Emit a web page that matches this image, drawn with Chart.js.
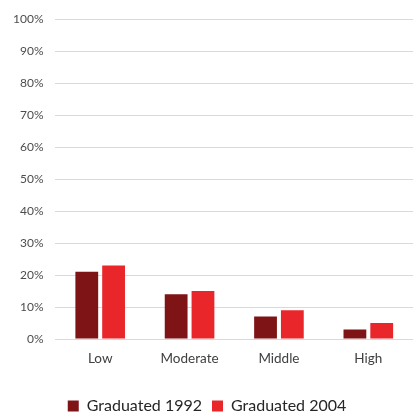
<!DOCTYPE html>
<html>
<head>
<meta charset="utf-8">
<script src="https://cdn.jsdelivr.net/npm/chart.js@4/dist/chart.umd.min.js"></script>
<style>
  html, body { margin: 0; padding: 0; background: #fff; }
  #wrap { width: 415px; height: 415px; }
</style>
</head>
<body>
<div id="wrap"><canvas id="barChart" width="415" height="415"></canvas></div>
<script>
var categories = ["Low", "Moderate", "Middle", "High"];
var grad1992 = [21, 14, 7, 3];
var grad2004 = [23, 15, 9, 5];
var yTicks = [0, 10, 20, 30, 40, 50, 60, 70, 80, 90, 100];

var barData = {
    labels: categories,
    datasets: [
        {
            label: "Graduated 1992",
            backgroundColor: "#7f1416",
            data: grad1992
        },
        {
            label: "Graduated 2004",
            backgroundColor: "#e9262a",
            data: grad2004
        }
    ]
};

var barOptions = {
    responsive: false,
    animation: false,
    // negative bottom pad lets the legend sit close to the lower edge
    layout: { padding: { left: 1, right: 2, top: 9, bottom: -9 } },
    datasets: { bar: { categoryPercentage: 0.6, barPercentage: 0.85 } },
    plugins: {
        legend: {
            position: "bottom",
            labels: {
                boxWidth: 11, boxHeight: 11, padding: 10,
                color: "#262626",
                font: { family: "Lato", size: 16 }
            }
        },
        tooltip: { enabled: false }
    },
    scales: {
        x: {
            grid: { display: false },
            border: { display: false },
            ticks: { color: "#404040", padding: 4, font: { family: "Lato", size: 13.5 } },
            afterFit: function (s) { s.height = 49; }
        },
        y: {
            min: 0, max: 100,
            afterBuildTicks: function (s) { s.ticks = yTicks.map(function (v) { return { value: v }; }); },
            grid: { color: "#d9d9d9", lineWidth: 1, drawTicks: false },
            border: { display: false },
            ticks: {
                color: "#4d4d4d", padding: 12,
                font: { family: "Lato", size: 12 },
                callback: function (v) { return v + "%"; }
            }
        }
    }
};

var ctx = document.getElementById("barChart").getContext("2d");
new Chart(ctx, { type: "bar", data: barData, options: barOptions });
</script>
</body>
</html>
